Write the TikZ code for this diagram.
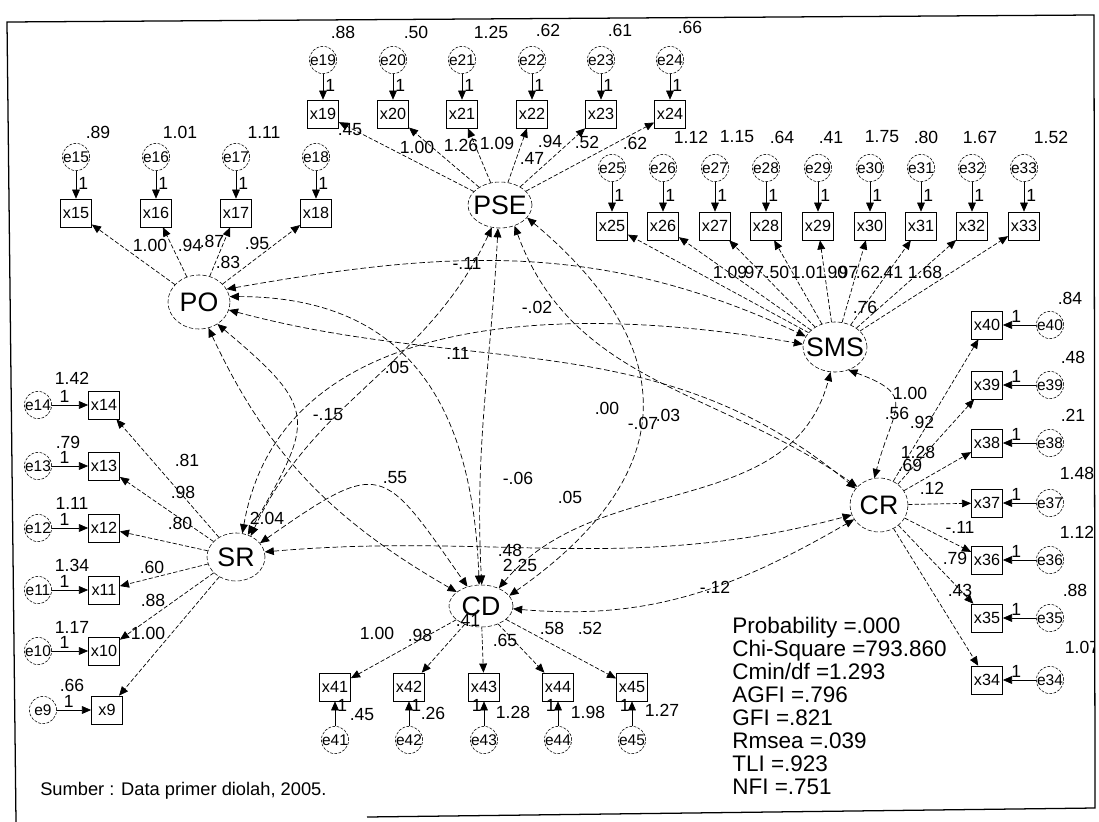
\documentclass[tikz,border=0pt]{standalone}
\usepackage{fontspec}
\setmainfont{Liberation Sans}
\usetikzlibrary{arrows.meta,shapes.geometric}

\newcommand{\zb}[1]{\makebox[0pt]{#1}}

\tikzset{
  latent/.style={ellipse, draw, dash pattern=on 3pt off 1.5pt, inner sep=0pt,
    font=\fontsize{19}{20}\selectfont},
  obs/.style={rectangle, draw, inner sep=0pt, minimum width=0.78cm,
    minimum height=0.7cm, font=\fontsize{11.5}{12}\selectfont},
  err/.style={circle, draw, dash pattern=on 2pt off 1pt, inner sep=0pt,
    minimum size=0.68cm, font=\fontsize{11}{12}\selectfont},
  val/.style={inner sep=0pt, font=\fontsize{12.5}{13}\selectfont},
  one/.style={inner sep=1.5pt, font=\fontsize{12.5}{13}\selectfont},
  arrtip/.style={-{Triangle[length=6.5pt,width=5.5pt]}},
  loadarr/.style={arrtip, line width=0.5pt, dash pattern=on 3pt off 1.5pt},
  errarr/.style={arrtip, line width=0.5pt},
  covarr/.style={{Triangle[length=6.5pt,width=5.5pt]}-{Triangle[length=6.5pt,width=5.5pt]},
    line width=0.5pt, dash pattern=on 4pt off 2pt},
  gof/.style={anchor=base west, inner sep=0pt, font=\fontsize{16}{16}\selectfont},
}

\begin{document}
\begin{tikzpicture}[x=0.025cm, y=-0.025cm]
  \useasboundingbox (0,0) rectangle (1099,822);

  % 外框
  \draw[line width=0.9pt] (16,822) -- (7,22) -- (1094,15) -- (1095,808) -- (367,817);

  % 潜变量
  \node[latent, minimum width=1.6cm, minimum height=1.15cm] (PSE) at (500,205) {\zb{PSE}};
  \node[latent, minimum width=1.55cm, minimum height=1.35cm] (PO) at (199,302) {\zb{PO}};
  \node[latent, minimum width=1.45cm, minimum height=1.2cm] (SR) at (236,557) {\zb{SR}};
  \node[latent, minimum width=1.6cm, minimum height=1.05cm] (CD) at (481,606) {\zb{CD}};
  \node[latent, minimum width=1.6cm, minimum height=1.25cm] (SMS) at (835,347) {\zb{SMS}};
  \node[latent, minimum width=1.45cm, minimum height=1.35cm] (CR) at (879,505) {\zb{CR}};

  % PSE 的指标
  \foreach \n/\x in {19/323,20/393,21/462,22/532,23/601,24/670}{
    \node[obs] (x\n) at (\x,114) {x\n};
    \node[err] (e\n) at (\x,60) {\zb{e\n}};
    \draw[errarr] (e\n) -- node[one, right, pos=.45] {1} (x\n);
    \draw[loadarr] (PSE) -- (x\n);
  }

  % PO 的指标
  \foreach \n/\x in {15/76,16/156,17/236,18/316}{
    \node[obs] (x\n) at (\x,213) {x\n};
    \node[err] (e\n) at (\x,157) {\zb{e\n}};
    \draw[errarr] (e\n) -- node[one, right, pos=.45] {1} (x\n);
    \draw[loadarr] (PO) -- (x\n);
  }

  % SMS 的指标
  \foreach \n/\x in {25/612,26/663,27/715,28/766,29/818,30/870,31/921,32/972,33/1024}{
    \node[obs] (x\n) at (\x,226) {x\n};
    \node[err] (e\n) at (\x,168) {\zb{e\n}};
    \draw[errarr] (e\n) -- node[one, right, pos=.45] {1} (x\n);
    \draw[loadarr] (SMS) -- (x\n);
  }

  % SR 的指标
  \foreach \n/\ex/\xx/\y in {14/38/104/405,13/38/104/466,12/38/104/528,
                            11/38/104/590,10/38/104/651,9/43/107/710}{
    \node[obs] (x\n) at (\xx,\y) {x\n};
    \node[err] (e\n) at (\ex,\y) {\zb{e\n}};
    \draw[errarr] (e\n) -- node[one, above, pos=.35] {1} (x\n);
    \draw[loadarr] (SR) -- (x\n);
  }

  % CR 的指标
  \foreach \n/\y in {40/325,39/385,38/443,37/503,36/560,35/618,34/680}{
    \node[obs] (x\n) at (987,\y) {x\n};
    \node[err] (e\n) at (1050,\y) {\zb{e\n}};
    \draw[errarr] (e\n) -- node[one, above, pos=.6] {1} (x\n);
    \draw[loadarr] (CR) -- (x\n);
  }

  % CD 的指标
  \foreach \n/\x/\a in {41/335/west,42/409/west,43/484/east,44/558/east,45/632/east}{
    \node[obs] (x\n) at (\x,687) {x\n};
    \node[err] (e\n) at (\x,740) {\zb{e\n}};
    \draw[errarr] (e\n) -- node[one, anchor=\a, pos=.85] {1} (x\n);
    \draw[loadarr] (CD) -- (x\n);
  }

  % 协方差
  \draw[covarr] (PSE.250) to[out=-115,in=65] (SR.55);
  \draw[covarr] (PSE.265) to[out=-93,in=93] (CD.88);
  \draw[covarr] (PSE.-25) to[out=-40,in=35,looseness=1.4] (CD.20);
  \draw[covarr] (PSE.-55) to[out=-70,in=145] (CR.140);
  \draw[covarr] (PO.10) to[out=0,in=92,looseness=1.2] (CD.95);
  \draw[covarr] (PO.-15) to[out=-15,in=140] (CR.145);
  \draw[covarr] (PO.-50) to[out=-40,in=60,looseness=1.6] (SR.62);
  \draw[covarr] (PO.-70) to[out=-65,in=150] (CD.150);
  \draw[covarr] (SR.30) to[out=35,in=125,looseness=1.8] (CD.125);
  \draw[covarr] (SR.75) to[out=80,in=170] (SMS.175);
  \draw[covarr] (PO.25) to[out=10,in=155] (SMS.160);
  \draw[covarr] (SR.10) to[out=5,in=195] (CR.200);
  \draw[covarr] (CD.45) to[out=50,in=-105] (SMS.-100);
  \draw[covarr] (CD.-5) to[out=-5,in=-150] (CR.-150);
  \draw[covarr] (SMS.-60) to[out=-20,in=75,looseness=1.7] (CR.100);

  % 上方的估计值
  \foreach \t/\x/\y [count=\i] in {.88/343/32,.50/416/32,1.25/491/32,.62/548/30,
      .61/620/30,.66/690/27,.89/98/132,1.01/180/132,1.11/264/132,
      .45/350/130,1.00/417/147,1.26/461/145,1.09/497/143,.94/550/141,
      .47/532/158,.52/587/142,.62/635/143,
      1.12/691/137,1.15/737/137,.64/782/137,.41/831/137,1.75/882/137,
      .80/926/137,1.67/980/137,1.52/1051/137,
      1.09/730/272,.97/752/272,.50/777/272,1.01/808/272,.90/835/272,
      .97/846/272,.62/868/272,.41/891/272,1.68/925/272,.76/865/307,
      1.00/150/245,.94/190/245,.87/212/241,.95/257/243,.83/228/262}{
    \node[val] (t\i) at (\x,\y) {\t};
  }

  % 协方差与方差
  \foreach \t/\x/\y [count=\i] in {-.11/467/263,-.02/537/307,.11/458/353,
      .05/397/367,-.15/328/415,.55/395/478,-.06/518/478,.05/570/497,
      .00/607/408,-.07/643/423,.03/668/415,-.12/715/587,.56/897/413,
      2.04/267/518,.48/510/550,2.25/520/565}{
    \node[val] (c\i) at (\x,\y) {\t};
  }

  % 左、下方的估计值
  \foreach \t/\x/\y [count=\i] in {.81/187/460,.98/183/492,.80/180/523,
      .60/152/567,.88/153/600,1.00/148/633,
      1.42/72/378,.79/68/442,1.11/72/503,1.34/72/565,1.17/72/627,.66/72/685,
      1.00/910/393,.92/922/422,1.28/918/452,.69/910/465,.12/932/488,
      -.11/960/527,.79/955/558,.43/960/590,
      1.00/377/633,.98/420/635,.41/468/620,.65/505/640,.58/552/628,.52/590/628,
      .45/362/715,.26/433/713,1.28/513/712,1.98/588/712,1.27/662/710}{
    \node[val] (b\i) at (\x,\y) {\t};
  }

  % 右侧的估计值，被外框截断
  \begin{scope}
    \clip (0,0) rectangle (1094,822);
    \foreach \t/\x/\y [count=\i] in {.84/1070/298,.48/1073/357,.21/1073/415,
        1.48/1077/473,1.12/1077/532,.88/1075/590,1.07/1082/647}{
      \node[val] (r\i) at (\x,\y) {\t};
    }
  \end{scope}

  % 拟合指标
  \foreach \t [count=\i from 0] in {Probability =.000,Chi-Square =793.860,
      Cmin/df =1.293,AGFI =.796,GFI =.821,Rmsea =.039,TLI =.923,NFI =.751}{
    \node[gof] (g\i) at (732,633+23*\i) {\t};
  }

  % 来源
  \node[anchor=base west, inner sep=0pt, font=\fontsize{13}{14}\selectfont]
    (src) at (40,795) {Sumber : Data primer diolah, 2005.};

\end{tikzpicture}
\end{document}
